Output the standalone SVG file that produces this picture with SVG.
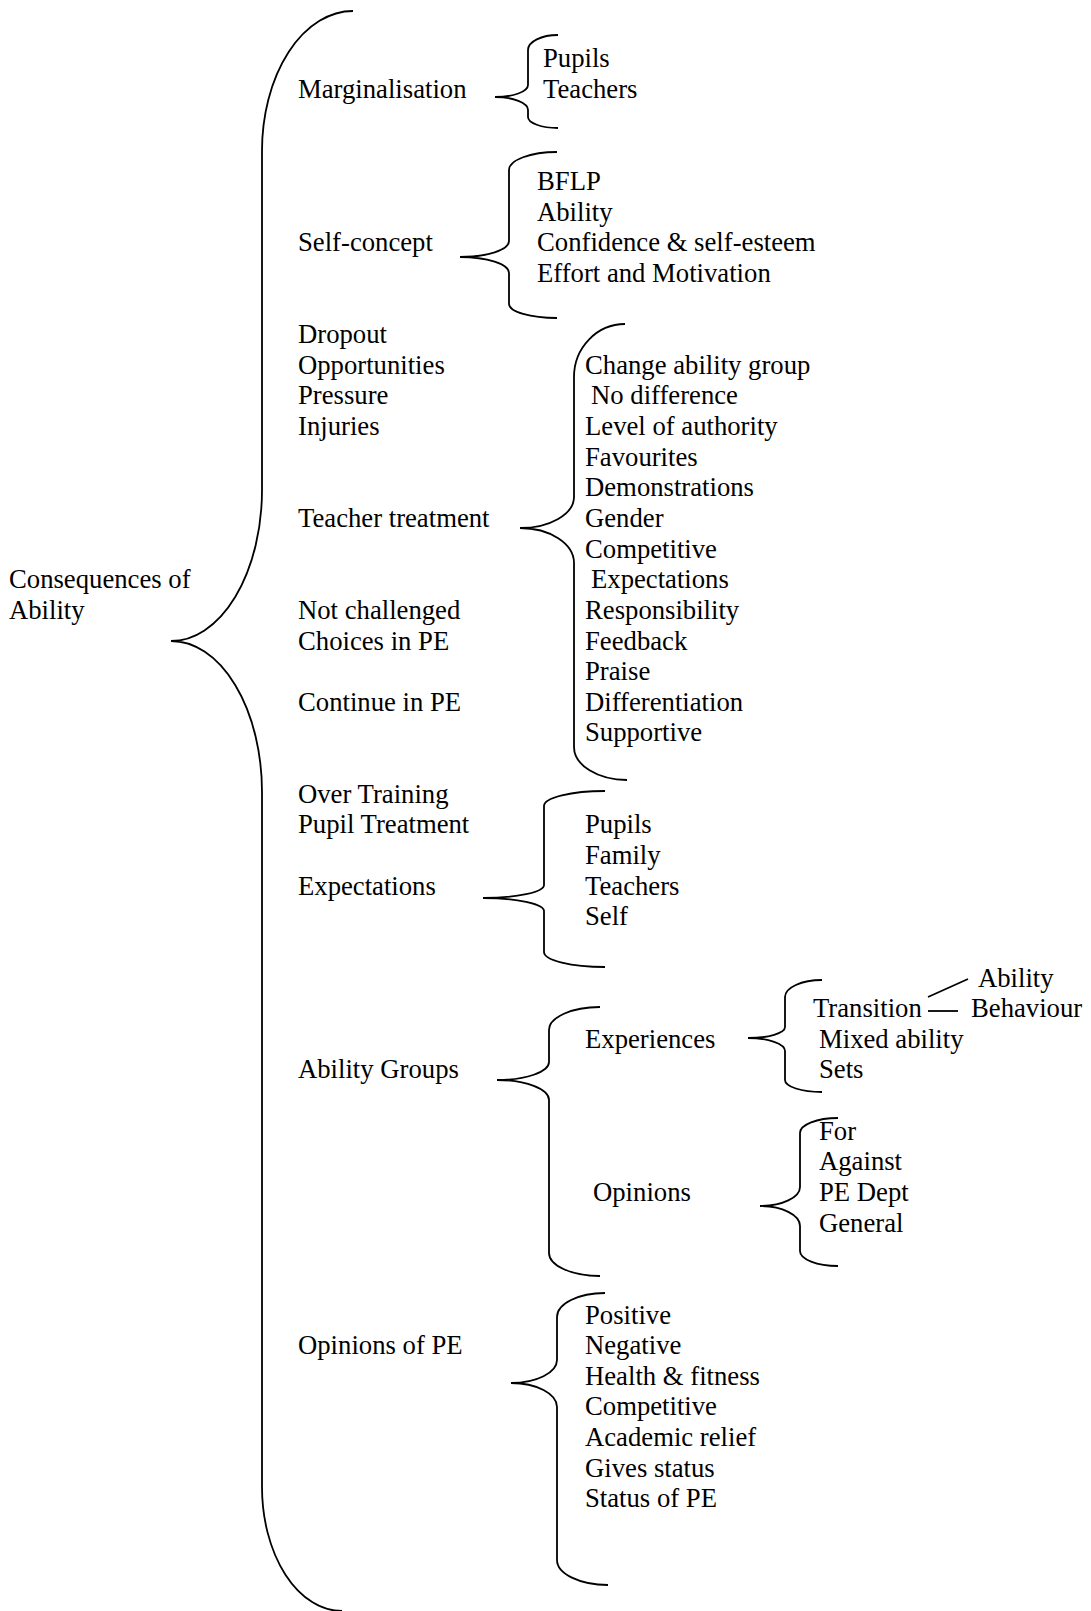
<svg xmlns="http://www.w3.org/2000/svg" width="1091" height="1611" viewBox="0 0 1091 1611">
<style>
.t{font-family:"Liberation Serif","Times New Roman",serif;font-size:26.7px;fill:#000}
.b{fill:none;stroke:#000;stroke-width:1.8}
</style>
<rect width="1091" height="1611" fill="#fff"/>
<g id="connectors">
<path class="b" d="M353,11 A91,140 0 0 0 262,151 L262,490 A91,151 0 0 1 171,641 A91,151 0 0 1 262,792 L262,1487 A80,124 0 0 0 342,1611"/>
<path class="b" d="M558,35 A30,15 0 0 0 528,50 L528,85 A33,12 0 0 1 495,97 A33,13 0 0 1 528,110 L528,117 A30,11 0 0 0 558,128"/>
<path class="b" d="M557,152 A48,18 0 0 0 509,170 L509,241 A49,16 0 0 1 460,257 A49,16 0 0 1 509,273 L509,304 A48,14 0 0 0 557,318"/>
<path class="b" d="M625,324 A51,53 0 0 0 574,377 L574,497 A54,31 0 0 1 520,528 A54,35 0 0 1 574,563 L574,747 A53,33 0 0 0 627,780"/>
<path class="b" d="M605,791 A61,15 0 0 0 544,806 L544,885 A61,13 0 0 1 483,898 A61,13 0 0 1 544,911 L544,952 A61,15 0 0 0 605,967"/>
<path class="b" d="M600,1007 A51,23 0 0 0 549,1030 L549,1062 A52,18 0 0 1 497,1080 A52,20 0 0 1 549,1100 L549,1253 A51,23 0 0 0 600,1276"/>
<path class="b" d="M822,980 A37,17 0 0 0 785,997 L785,1027 A37,11 0 0 1 748,1038 A37,13 0 0 1 785,1051 L785,1080 A37,12 0 0 0 822,1092"/>
<path class="b" d="M838,1118 A38,15 0 0 0 800,1133 L800,1187 A40,19 0 0 1 760,1206 A40,20 0 0 1 800,1226 L800,1251 A38,15 0 0 0 838,1266"/>
<path class="b" d="M605,1293 A48,24 0 0 0 557,1317 L557,1360 A46,23 0 0 1 511,1383 A46,24 0 0 1 557,1407 L557,1560 A51,25 0 0 0 608,1585"/>
<line class="b" x1="928" y1="997" x2="968" y2="979"/>
<line class="b" x1="928" y1="1011" x2="958" y2="1011"/>
</g>
<g id="root"><text class="t" x="9" y="588.2">Consequences of</text><text class="t" x="9" y="618.8">Ability</text></g>
<g id="marginalisation"><text class="t" x="298" y="97.9">Marginalisation</text></g>
<g id="marg-items"><text class="t" x="543" y="67.3">Pupils</text><text class="t" x="543" y="97.9">Teachers</text></g>
<g id="self-concept"><text class="t" x="298" y="251.1">Self-concept</text></g>
<g id="self-items"><text class="t" x="537" y="189.9">BFLP</text><text class="t" x="537" y="220.5">Ability</text><text class="t" x="537" y="251.1">Confidence &amp; self-esteem</text><text class="t" x="537" y="281.8">Effort and Motivation</text></g>
<g id="misc-1"><text class="t" x="298" y="343.1">Dropout</text><text class="t" x="298" y="373.7">Opportunities</text><text class="t" x="298" y="404.4">Pressure</text><text class="t" x="298" y="435.0">Injuries</text></g>
<g id="teacher-treatment"><text class="t" x="298" y="526.9">Teacher treatment</text></g>
<g id="teacher-items">
<text class="t" x="585" y="373.7">Change ability group</text>
<text class="t" x="591" y="404.4">No difference</text>
<text class="t" x="585" y="435.0">Level of authority</text>
<text class="t" x="585" y="465.6">Favourites</text>
<text class="t" x="585" y="496.3">Demonstrations</text>
<text class="t" x="585" y="526.9">Gender</text>
<text class="t" x="585" y="557.5">Competitive</text>
<text class="t" x="591" y="588.2">Expectations</text>
<text class="t" x="585" y="618.8">Responsibility</text>
<text class="t" x="585" y="649.5">Feedback</text>
<text class="t" x="585" y="680.1">Praise</text>
<text class="t" x="585" y="710.7">Differentiation</text>
<text class="t" x="585" y="741.4">Supportive</text>
</g>
<g id="misc-2"><text class="t" x="298" y="618.8">Not challenged</text><text class="t" x="298" y="649.5">Choices in PE</text><text class="t" x="298" y="710.7">Continue in PE</text></g>
<g id="misc-3"><text class="t" x="298" y="802.7">Over Training</text><text class="t" x="298" y="833.3">Pupil Treatment</text></g>
<g id="expectations"><text class="t" x="298" y="894.6">Expectations</text></g>
<g id="expect-items"><text class="t" x="585" y="833.3">Pupils</text><text class="t" x="585" y="863.9">Family</text><text class="t" x="585" y="894.6">Teachers</text><text class="t" x="585" y="925.2">Self</text></g>
<g id="ability-groups"><text class="t" x="298" y="1078.4">Ability Groups</text></g>
<g id="experiences"><text class="t" x="585" y="1047.8">Experiences</text></g>
<g id="experience-items"><text class="t" x="813" y="1017.1">Transition</text><text class="t" x="819" y="1047.8">Mixed ability</text><text class="t" x="819" y="1078.4">Sets</text></g>
<g id="transition-items"><text class="t" x="978" y="986.5">Ability</text><text class="t" x="971" y="1017.1">Behaviour</text></g>
<g id="opinions"><text class="t" x="593" y="1201.0">Opinions</text></g>
<g id="opinion-items"><text class="t" x="819" y="1139.7">For</text><text class="t" x="819" y="1170.3">Against</text><text class="t" x="819" y="1201.0">PE Dept</text><text class="t" x="819" y="1231.6">General</text></g>
<g id="opinions-of-pe"><text class="t" x="298" y="1354.2">Opinions of PE</text></g>
<g id="pe-items">
<text class="t" x="585" y="1323.5">Positive</text>
<text class="t" x="585" y="1354.2">Negative</text>
<text class="t" x="585" y="1384.8">Health &amp; fitness</text>
<text class="t" x="585" y="1415.4">Competitive</text>
<text class="t" x="585" y="1446.1">Academic relief</text>
<text class="t" x="585" y="1476.7">Gives status</text>
<text class="t" x="585" y="1507.4">Status of PE</text>
</g>
</svg>
